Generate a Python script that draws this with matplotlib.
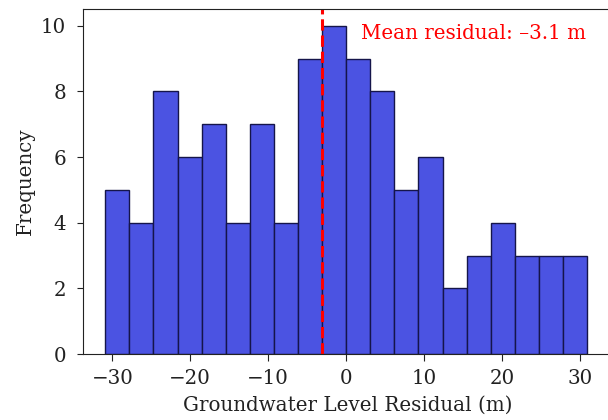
import numpy as np
import matplotlib
matplotlib.use("Agg")
import matplotlib.pyplot as plt

plt.rcParams['font.family'] = ['DejaVu Serif']

bin_edges = np.linspace(-30.9, 30.9, 21)
counts = [5, 4, 8, 6, 7, 4, 7, 4, 9, 10, 9, 8, 5, 6, 2, 3, 4, 3, 3, 3]
mean_residual = -3.1

fig = plt.figure(figsize=(6.08, 4.2), dpi=100)
ax = fig.add_axes([0.136, 0.157, 0.872, 0.821])

centers = (bin_edges[:-1] + bin_edges[1:]) / 2
ax.hist(centers, bins=bin_edges, weights=counts, color='#4B53E2',
        edgecolor='#15154a', linewidth=1.0)
ax.axvline(mean_residual, color='red', linestyle='--', linewidth=2.2)
ax.text(mean_residual + 5, 9.76, 'Mean residual: –3.1 m', color='red',
        fontsize=14.3, va='center')

ax.set_xlim(-33.8, 34.2)
ax.set_ylim(0, 10.5)
ax.set_xticks([-30, -20, -10, 0, 10, 20, 30])
ax.set_yticks([0, 2, 4, 6, 8, 10])
ax.tick_params(labelsize=14.3, color='#222222', labelcolor='#222222')
ax.tick_params(axis='x', length=5, pad=5.5)
ax.tick_params(axis='y', length=4, pad=8)
for s in ax.spines.values():
    s.set_color('#222222')
ax.set_xlabel('Groundwater Level Residual (m)', fontsize=14.3, labelpad=6,
              color='#222222')
ax.set_ylabel('Frequency', fontsize=14.3, color='#222222')

fig.savefig('out.png', dpi=100)
